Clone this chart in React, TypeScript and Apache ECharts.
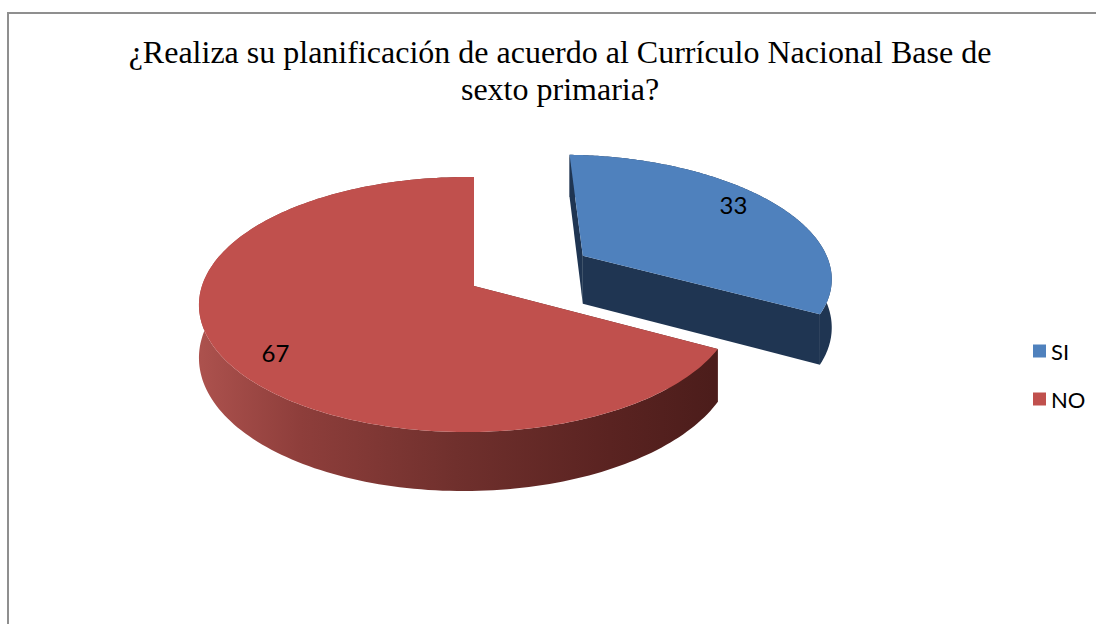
import React, { useEffect, useRef } from "react";
import * as echarts from "echarts";

// ---- data ----
const categories = ["SI", "NO"];
const values = [33, 67];
const titleLines = [
  "¿Realiza su planificación de acuerdo al Currículo Nacional Base de",
  "sexto primaria?",
];

// ---- style / layout ----
const topColors = ["#4F81BD", "#C0504D"];
const sideColors = ["#1F3552", "#5a2321"];
const redWallStops = [
  { offset: 0, color: "#ad524e" },
  { offset: 0.2, color: "#8e3e3b" },
  { offset: 0.5, color: "#70302d" },
  { offset: 0.8, color: "#5a2321" },
  { offset: 1, color: "#4c1d1b" },
];
const explode = [0.5, 0];
const CX = 474;
const CY = 286;
const RX = 265;
const RY = 124.8;
const KX = 0.026;
const KY = 0.1451;
const DEPTH = 50.4;
const LABEL_R = 0.84;
const LABEL_SHIFT = 5;
const FONT = "Lato, 'Noto Sans', sans-serif";

function project(X: number, Y: number, h: number): number[] {
  const den = 1 + KX * X + KY * Y;
  return [CX + (RX * X) / den, CY - (RY * Y) / den + (h * DEPTH) / den];
}

function renderSlice(i: number) {
  const total = values.reduce((a, b) => a + b, 0);
  let cum = 0;
  for (let j = 0; j < i; j++) cum += values[j];
  const a0 = 90 - (360 * cum) / total;
  const a1 = 90 - (360 * (cum + values[i])) / total;
  const midDeg = (a0 + a1) / 2;
  const mid = (midDeg * Math.PI) / 180;
  const e = explode[i];
  const ox = e * Math.cos(mid);
  const oy = e * Math.sin(mid);
  const N = 180;
  const top: number[][] = [];
  const bot: number[][] = [];
  for (let k = 0; k <= N; k++) {
    const th = ((a0 + ((a1 - a0) * k) / N) * Math.PI) / 180;
    const X = ox + Math.cos(th);
    const Y = oy + Math.sin(th);
    top.push(project(X, Y, 0));
    bot.push(project(X, Y, 1));
  }
  const c0 = project(ox, oy, 0);
  const c1 = project(ox, oy, 1);
  const side = sideColors[i];
  const wallFill =
    i === 1
      ? new echarts.graphic.LinearGradient(197, 0, 713, 0, redWallStops, true)
      : side;
  const children: any[] = [];
  children.push({
    type: "polygon",
    shape: { points: [c0, top[0], bot[0], c1] },
    style: { fill: side },
  });
  children.push({
    type: "polygon",
    shape: { points: [c0, top[N], bot[N], c1] },
    style: { fill: side },
  });
  children.push({
    type: "polygon",
    shape: { points: top.concat(bot.slice().reverse()) },
    style: { fill: wallFill },
  });
  children.push({
    type: "polygon",
    shape: { points: [c0].concat(top) },
    style: { fill: topColors[i] },
  });
  const lth = ((midDeg + LABEL_SHIFT) * Math.PI) / 180;
  const lp = project(ox + LABEL_R * Math.cos(lth), oy + LABEL_R * Math.sin(lth), 0);
  children.push({
    type: "text",
    x: lp[0],
    y: lp[1],
    style: {
      text: String(values[i]),
      fill: "#000",
      fontFamily: FONT,
      fontSize: 24,
      align: "center",
      verticalAlign: "middle",
    },
  });
  return { type: "group", children };
}

export default function App() {
  const ref = useRef<HTMLDivElement>(null);
  useEffect(() => {
    if (!ref.current) return;
    const chart = echarts.init(ref.current, undefined, { renderer: "svg" });
    chart.setOption({
      animation: false,
      backgroundColor: "#ffffff",
      title: {
        text: titleLines.join("\n"),
        left: 560,
        top: 33,
        padding: 0,
        textAlign: "center",
        textStyle: {
          fontFamily: "Liberation Serif",
          fontSize: 32,
          fontWeight: "normal",
          color: "#000",
          lineHeight: 37,
        },
      },
      legend: {
        data: categories,
        orient: "vertical",
        left: 1028,
        top: 335,
        icon: "rect",
        itemWidth: 13,
        itemHeight: 13,
        itemGap: 26,
        textStyle: {
          fontFamily: FONT,
          fontSize: 22,
          color: "#000",
          lineHeight: 22,
        },
      },
      graphic: [
        {
          type: "rect",
          silent: true,
          z: -10,
          shape: { x: 8, y: 13, width: 1200, height: 800 },
          style: { fill: "none", stroke: "#8f8f8f", lineWidth: 2 },
        },
      ],
      series: categories.map((name, i) => ({
        type: "custom",
        name,
        coordinateSystem: "none",
        silent: true,
        itemStyle: { color: topColors[i] },
        data: [values[i]],
        renderItem: () => renderSlice(i),
      })),
    });
    return () => chart.dispose();
  }, []);
  return (
    <div
      ref={ref}
      style={{ position: "fixed", left: 0, top: 0, width: 1096, height: 624, background: "#fff" }}
    />
  );
}
